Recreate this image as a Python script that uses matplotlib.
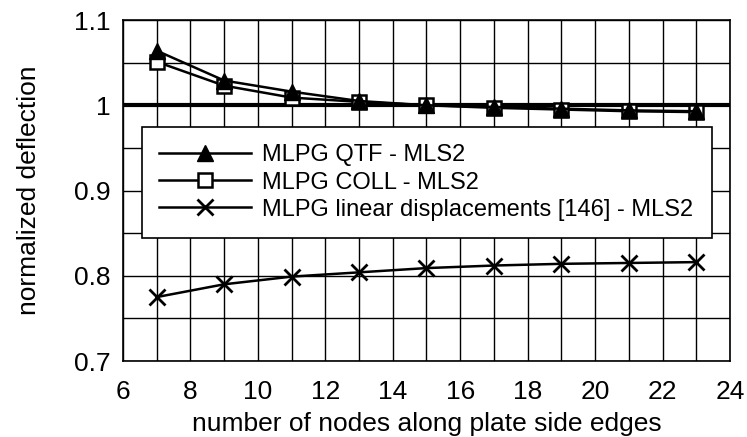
import matplotlib.pyplot as plt

plt.rcParams['font.family'] = ['Liberation Sans', 'DejaVu Sans']

nodes = [7, 9, 11, 13, 15, 17, 19, 21, 23]
qtf = [1.064, 1.029, 1.016, 1.005, 1.000, 0.998, 0.996, 0.994, 0.993]
coll = [1.051, 1.023, 1.009, 1.004, 1.000, 0.997, 0.995, 0.993, 0.992]
linear = [0.775, 0.790, 0.799, 0.804, 0.809, 0.812, 0.814, 0.815, 0.816]

labels = ["MLPG QTF - MLS2", "MLPG COLL - MLS2",
          "MLPG linear displacements [146] - MLS2"]

fig = plt.figure(figsize=(7.47, 4.37), dpi=100)
ax = fig.add_axes([0.1647, 0.1739, 0.8125, 0.7803])

fs = 19
ax.set_xlim(6, 24)
ax.set_ylim(0.7, 1.1)
ax.set_xticks(range(6, 25, 2))
ax.set_xticks(range(6, 25, 1), minor=True)
ax.set_yticks([0.7, 0.8, 0.9, 1.0, 1.1])
ax.set_yticklabels(["0.7", "0.8", "0.9", "1", "1.1"])
ax.set_yticks([0.75, 0.85, 0.95, 1.05], minor=True)
ax.grid(True, which='both', color='black', linewidth=1.0)
ax.tick_params(which='both', length=0, labelsize=fs)
ax.tick_params(axis='x', pad=14)
ax.tick_params(axis='y', pad=9)
for s in ax.spines.values():
    s.set_linewidth(1.2)

# reference line at 1
ax.axhline(1.0, color='black', linewidth=3, zorder=2)

ax.plot(nodes, qtf, color='black', linewidth=1.8, marker='^', markersize=11,
        markerfacecolor='black', label=labels[0], zorder=4)
ax.plot(nodes, coll, color='black', linewidth=1.8, marker='s', markersize=10,
        markerfacecolor='white', markeredgewidth=1.8, label=labels[1], zorder=3)
ax.plot(nodes, linear, color='black', linewidth=1.8, marker='x', markersize=12,
        markeredgewidth=2, label=labels[2], zorder=3)

leg = ax.legend(loc='upper left', bbox_to_anchor=(0.031, 0.364, 0.939, 0.322),
                mode='expand', fontsize=17, frameon=True, fancybox=False,
                edgecolor='black', framealpha=1, handlelength=3.9,
                labelspacing=0.22, borderpad=0.73, handletextpad=0.45,
                borderaxespad=0)
leg.get_frame().set_linewidth(1.2)

ax.set_xlabel("number of nodes along plate side edges", fontsize=fs, va='top')
ax.set_ylabel("normalized deflection", fontsize=fs, va='center')
ax.xaxis.set_label_coords(0.5, -0.15)
ax.yaxis.set_label_coords(-0.155, 0.5)

fig.savefig("out.png", dpi=100)
